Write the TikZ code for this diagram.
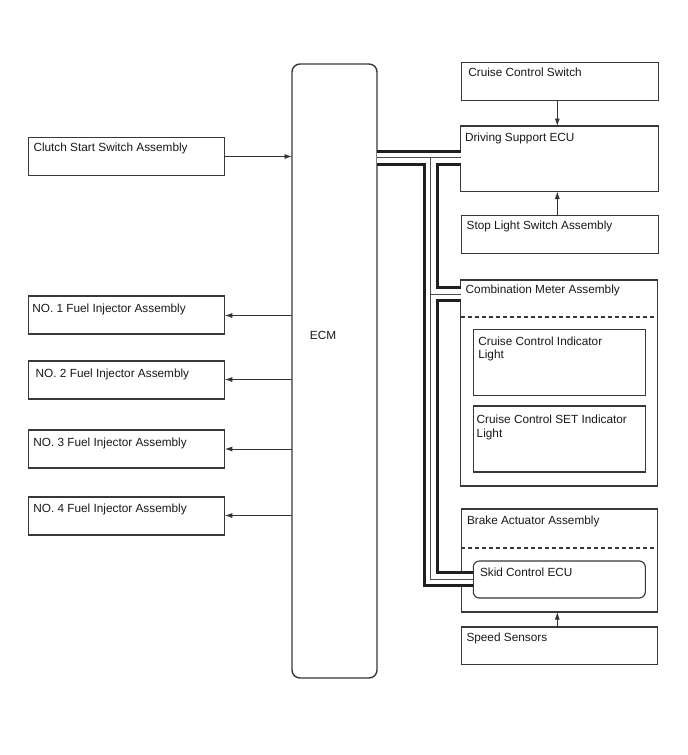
\documentclass[tikz,border=0pt]{standalone}
\usepackage{fontspec}
\setmainfont{Liberation Sans}
\usetikzlibrary{arrows.meta}
\begin{document}
\begin{tikzpicture}[x=1pt,y=-1pt,
  box/.style={draw=black!78, line width=1.1pt, inner sep=0pt, outer sep=0pt, anchor=north west},
  txt/.style={anchor=north west, inner sep=0pt, outer sep=0pt, align=left, text=black!90,
    font=\fontsize{11.8}{13.6}\selectfont, yshift=-1.4pt},
  arr/.style={draw=black!80, line width=0.9pt, -{Latex[length=7.5pt,width=5pt]}},
  sep/.style={draw=black!78, line width=1.1pt, dash pattern=on 4pt off 3pt},
  busouter/.style={draw=black!88, line width=16pt},
  busgap/.style={draw=white, line width=10pt},
  buscore/.style={draw=black!70, line width=0.9pt}]
\useasboundingbox[fill=white] (0,0) rectangle (688,755);

% ECM
\node[box, line width=1.4pt, rounded corners=8pt, minimum width=85pt, minimum height=614pt] (ecm) at (292,64) {};
\node[font=\fontsize{11.8}{13.6}\selectfont, inner sep=0pt, text=black!90] (ecmt) at (323,335) {ECM};

% right column
\node[box, minimum width=196.5pt, minimum height=38.5pt] (ccs) at (461.7,62.3) {};
\node[txt] (ccst) at (468.3,66.5) {Cruise Control Switch};
\node[box, minimum width=197.5pt, minimum height=65.5pt] (ds) at (460.7,126) {};
\node[txt] (dst) at (465,132) {Driving Support ECU};
\node[box, minimum width=196.5pt, minimum height=37.5pt] (stop) at (461.7,215.7) {};
\node[txt] (stopt) at (466.7,220) {Stop Light Switch Assembly};

\node[box, minimum width=197pt, minimum height=206pt] (cm) at (460.7,280) {};
\node[txt] (cmt) at (465.7,283.8) {Combination Meter Assembly};
\draw[sep] (cm.west |- 0,317) -- (cm.east |- 0,317);
\node[box, minimum width=172pt, minimum height=66pt] (cci) at (473.3,329.5) {};
\node[txt] (ccit) at (478.3,335.2) {Cruise Control Indicator\\Light};
\node[box, minimum width=172pt, minimum height=66pt] (set) at (473.3,406) {};
\node[txt] (sett) at (476.7,413.5) {Cruise Control SET Indicator\\Light};

\node[box, minimum width=196.5pt, minimum height=103pt] (ba) at (461.2,509) {};
\node[txt] (bat) at (467,514.5) {Brake Actuator Assembly};
\draw[sep] (ba.west |- 0,548) -- (ba.east |- 0,548);
\node[box, rounded corners=6pt, minimum width=172pt, minimum height=37pt] (skid) at (473.3,561) {};
\node[txt] (skidt) at (480,566.5) {Skid Control ECU};

\node[box, minimum width=196.5pt, minimum height=37.5pt] (ss) at (461.2,627) {};
\node[txt] (sst) at (466.5,631.5) {Speed Sensors};

% left column
\node[box, minimum width=196.5pt, minimum height=38pt] (css) at (28.3,137.3) {};
\node[txt] (csst) at (33.5,141.8) {Clutch Start Switch Assembly};
\node[box, minimum width=196.5pt, minimum height=38pt] (fi1) at (28.3,296) {};
\node[txt] (fi1t) at (32.3,302.8) {NO. 1 Fuel Injector Assembly};
\node[box, minimum width=196.5pt, minimum height=38pt] (fi2) at (28.3,361) {};
\node[txt] (fi2t) at (35.7,367.2) {NO. 2 Fuel Injector Assembly};
\node[box, minimum width=196.5pt, minimum height=38pt] (fi3) at (28.3,430) {};
\node[txt] (fi3t) at (33.3,436.2) {NO. 3 Fuel Injector Assembly};
\node[box, minimum width=196.5pt, minimum height=38pt] (fi4) at (28.3,497) {};
\node[txt] (fi4t) at (33.3,502.8) {NO. 4 Fuel Injector Assembly};

% arrows
\draw[arr] (css.east |- 0,156.5) -- (ecm.west |- 0,156.5);
\draw[arr] (ecm.west |- 0,315.5) -- (fi1.east |- 0,315.5);
\draw[arr] (ecm.west |- 0,379.5) -- (fi2.east |- 0,379.5);
\draw[arr] (ecm.west |- 0,449) -- (fi3.east |- 0,449);
\draw[arr] (ecm.west |- 0,515.5) -- (fi4.east |- 0,515.5);
\draw[arr] (ccs.south -| 557.3,0) -- (ds.north -| 557.3,0);
\draw[arr] (stop.north -| 557.3,0) -- (ds.south -| 557.3,0);
\draw[arr] (ss.north -| 557.3,0) -- (ba.south -| 557.3,0);

% CAN bus
\coordinate (j1) at (430.5,157.5);
\coordinate (j2) at (430.5,294);
\coordinate (j3) at (430.5,579);
\foreach \st in {busouter,busgap,buscore}{
  \draw[\st] (ecm.east |- j1) -- (ds.west |- j1);
  \draw[\st] (j1) -- (j3) -- (skid.west |- j3);
  \draw[\st] (j2) -- (cm.west |- j2);
}
\end{tikzpicture}
\end{document}
